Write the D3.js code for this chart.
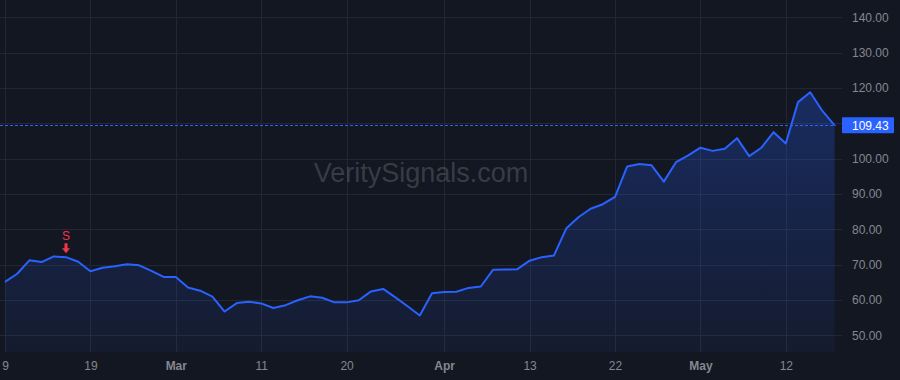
<!DOCTYPE html>
<html>
<head>
<meta charset="utf-8">
<script src="https://cdn.jsdelivr.net/npm/d3@7"></script>
<style>
  html, body { margin: 0; padding: 0; background: #131722; }
  svg { display: block; }
  text { font-family: "Liberation Sans", Arial, sans-serif; }
</style>
</head>
<body>
<svg id="chart" width="900" height="380"></svg>
<script>
// ---- data ----
const dates = [
  "Feb 9","Feb 10","Feb 11","Feb 12","Feb 13","Feb 17","Feb 18","Feb 19","Feb 20","Feb 23",
  "Feb 24","Feb 25","Feb 26","Feb 27","Mar 2","Mar 3","Mar 4","Mar 5","Mar 6","Mar 9",
  "Mar 10","Mar 11","Mar 12","Mar 13","Mar 16","Mar 17","Mar 18","Mar 19","Mar 20","Mar 23",
  "Mar 24","Mar 25","Mar 26","Mar 27","Mar 30","Mar 31","Apr 1","Apr 2","Apr 6","Apr 7",
  "Apr 8","Apr 9","Apr 10","Apr 13","Apr 14","Apr 15","Apr 16","Apr 17","Apr 20","Apr 21",
  "Apr 22","Apr 23","Apr 24","Apr 27","Apr 28","Apr 29","Apr 30","May 1","May 4","May 5",
  "May 6","May 7","May 8","May 11","May 12","May 13","May 14","May 15","May 18"
];
const closes = [
  65.1, 67.4, 71.2, 70.7, 72.3, 72.1, 70.8, 68.1, 69.1, 69.5,
  70.1, 69.8, 68.2, 66.5, 66.5, 63.5, 62.6, 60.9, 56.7, 59.1,
  59.5, 59.0, 57.7, 58.5, 59.9, 61.0, 60.6, 59.3, 59.3, 59.9,
  62.4, 63.1, 60.7, 58.2, 55.6, 61.9, 62.2, 62.3, 63.4, 63.8,
  68.5, 68.6, 68.7, 71.1, 72.1, 72.6, 80.2, 83.4, 85.8, 87.1,
  89.2, 97.8, 98.5, 98.1, 93.5, 99.0, 100.9, 103.1, 102.2, 102.8,
  105.8, 100.7, 103.1, 107.5, 104.3, 116.0, 118.8, 113.5, 109.43
];
const xTickDates  = ["Feb 9","Feb 19","Mar 2","Mar 11","Mar 20","Apr 1","Apr 13","Apr 22","May 1","May 12"];
const xTickLabels = ["9","19","Mar","11","20","Apr","13","22","May","12"];
const monthLabels = ["Mar","Apr","May"];
const yTicks = [50, 60, 70, 80, 90, 100, 110, 120, 130, 140];
const signalDates = ["Feb 17"];
const signalLabels = ["S"];
const lastPrice = 109.43;
const watermark = "VeritySignals.com";

// ---- layout ----
const W = 900, H = 380;
const plotRight = 836, gridRight = 842, plotBottom = 352;
const svg = d3.select("#chart");

svg.append("rect").attr("width", W).attr("height", H).attr("fill", "#131722");

const idx = d3.range(closes.length);
const x = d3.scaleLinear().domain([0, closes.length - 1]).range([5, 834.6]);
const y = d3.scaleLinear().domain([50, 140]).range([335.2, 17.4]);
const xOfDate = d => x(dates.indexOf(d));

const gridColor = "#232732";
const textColor = "#838790";

// horizontal grid
svg.append("g").selectAll("line").data(yTicks).join("line")
  .attr("x1", 0).attr("x2", gridRight)
  .attr("y1", d => Math.round(y(d)) + 0.5).attr("y2", d => Math.round(y(d)) + 0.5)
  .attr("stroke", gridColor).attr("stroke-width", 1);

// vertical grid
svg.append("g").selectAll("line").data(xTickDates).join("line")
  .attr("x1", d => Math.round(xOfDate(d)) + 0.5).attr("x2", d => Math.round(xOfDate(d)) + 0.5)
  .attr("y1", 0).attr("y2", plotBottom)
  .attr("stroke", gridColor).attr("stroke-width", 1);

// watermark
svg.append("text")
  .attr("x", 421).attr("y", 182)
  .attr("text-anchor", "middle")
  .attr("font-size", 27)
  .attr("fill", "rgba(255,255,255,0.17)")
  .text(watermark);

// area gradient
const defs = svg.append("defs");
const grad = defs.append("linearGradient").attr("id", "areaGrad")
  .attr("gradientUnits", "userSpaceOnUse")
  .attr("x1", 0).attr("x2", 0)
  .attr("y1", y(d3.max(closes))).attr("y2", plotBottom);
grad.append("stop").attr("offset", "0%").attr("stop-color", "#2962ff").attr("stop-opacity", 0.28);
grad.append("stop").attr("offset", "100%").attr("stop-color", "#2962ff").attr("stop-opacity", 0.06);

defs.append("clipPath").attr("id", "plotClip")
  .append("rect").attr("x", 0).attr("y", 0).attr("width", plotRight).attr("height", plotBottom);

const plot = svg.append("g").attr("clip-path", "url(#plotClip)");

plot.append("path").datum(idx)
  .attr("fill", "url(#areaGrad)")
  .attr("d", d3.area().x(i => x(i)).y0(plotBottom).y1(i => y(closes[i])));

// last price dotted line
plot.append("line")
  .attr("x1", 0).attr("x2", plotRight)
  .attr("y1", Math.round(y(lastPrice)) + 0.5).attr("y2", Math.round(y(lastPrice)) + 0.5)
  .attr("stroke", "#2962ff").attr("stroke-width", 1)
  .attr("shape-rendering", "crispEdges")
  .attr("stroke-dasharray", "3,2");

plot.append("path").datum(idx)
  .attr("fill", "none")
  .attr("stroke", "#2962ff")
  .attr("stroke-width", 2)
  .attr("stroke-linejoin", "round")
  .attr("d", d3.line().x(i => x(i)).y(i => y(closes[i])));

// signal markers
signalDates.forEach((d, k) => {
  const i = dates.indexOf(d);
  const cx = x(i), tip = y(closes[i]) - 4;
  svg.append("path")
    .attr("d", `M${cx - 1.5},${tip - 10} L${cx + 1.5},${tip - 10} L${cx + 1.5},${tip - 5} L${cx + 4},${tip - 5} L${cx},${tip} L${cx - 4},${tip - 5} L${cx - 1.5},${tip - 5} Z`)
    .attr("fill", "#f23645");
  svg.append("text")
    .attr("x", cx).attr("y", tip - 13)
    .attr("text-anchor", "middle")
    .attr("font-size", 12)
    .attr("fill", "#f23645")
    .text(signalLabels[k]);
});

// right axis labels (the one under the price label is hidden)
const yAxis = d3.axisRight(y)
  .tickValues(yTicks.filter(v => Math.abs(y(v) - y(lastPrice)) > 10))
  .tickFormat(d => d3.format(".2f")(d))
  .tickSize(0).tickPadding(0);
const yg = svg.append("g").attr("transform", `translate(852,0)`).call(yAxis);
yg.select(".domain").remove();
yg.selectAll("text").attr("fill", textColor).attr("font-size", 12)
  .attr("font-family", "'Liberation Sans', Arial, sans-serif");

// price label
const py = y(lastPrice);
svg.append("rect")
  .attr("x", 842).attr("y", py - 8).attr("width", 52).attr("height", 16)
  .attr("rx", 1).attr("fill", "#2962ff");
svg.append("text")
  .attr("x", 852).attr("y", py).attr("dy", "0.35em")
  .attr("font-size", 12).attr("fill", "#ffffff")
  .text(d3.format(".2f")(lastPrice));

// bottom axis
const xAxis = d3.axisBottom(x)
  .tickValues(xTickDates.map(d => dates.indexOf(d)))
  .tickFormat((d, k) => xTickLabels[k])
  .tickSize(0).tickPadding(0);
const xg = svg.append("g").attr("transform", `translate(0,361)`).call(xAxis);
xg.select(".domain").remove();
xg.selectAll("text")
  .attr("fill", textColor).attr("font-size", 12)
  .attr("font-family", "'Liberation Sans', Arial, sans-serif")
  .attr("font-weight", (d, k) => monthLabels.includes(xTickLabels[k]) ? "bold" : "normal");
</script>
</body>
</html>
